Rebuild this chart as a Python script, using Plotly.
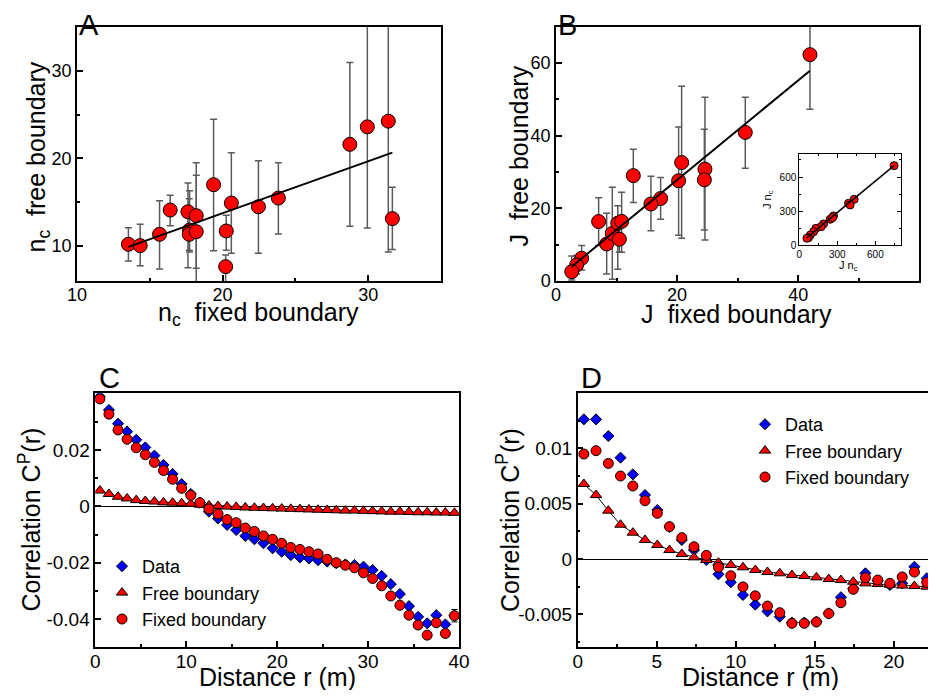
import plotly.graph_objects as go

# The page keeps the browser's 8 px body margin, so the figure is 920x682
# and placed at (8, 8) inside the 936x698 window.
PAGE_W, PAGE_H = 936, 698
OFF = 8
W, H = PAGE_W - 2 * OFF, PAGE_H - 2 * OFF
FONT = "Liberation Sans, Arial, sans-serif"
RED = "#ff0000"
BLUE = "#0000ff"
ERR = "#5a5a5a"

# ---------------- Panel A : n_c fixed vs free boundary ----------------
nc_fixed = [13.53, 14.34, 15.67, 16.40, 17.62, 18.19, 17.73, 17.71, 18.19, 19.38,
            20.60, 20.25, 20.21, 22.46, 23.83, 28.74, 29.94, 31.38, 31.66]
nc_free = [10.19, 10.04, 11.33, 14.10, 13.90, 13.46, 11.82, 11.33, 11.63, 16.99,
           14.90, 11.71, 7.64, 14.48, 15.47, 21.60, 23.60, 24.25, 13.12]
nc_free_hi = [12.09, 12.47, 15.17, 15.80, 17.20, 19.50, 16.30, 15.40, 18.06, 24.48,
              20.64, 13.50, 8.97, 19.73, 19.50, 30.94, 40.00, 40.00, 16.70]
nc_free_lo = [8.29, 7.75, 7.38, 12.30, 7.50, 5.00, 9.30, 9.50, 7.45, 9.46,
              9.17, 9.50, 5.50, 9.17, 11.37, 12.25, 12.05, 9.30, 9.60]
nc_fit_x = [13.53, 31.66]
nc_fit_y = [9.90, 20.66]

# ---------------- Panel B : J fixed vs free boundary ----------------
J_fixed = [41.94, 31.26, 24.60, 24.50, 20.75, 20.25, 17.28, 15.68, 12.77, 7.04,
           8.37, 9.30, 10.20, 10.84, 10.46, 4.24, 3.40, 2.60]
J_free = [62.30, 40.90, 30.80, 27.85, 32.60, 27.60, 22.70, 21.20, 29.00, 16.36,
          10.20, 13.10, 15.90, 16.40, 11.50, 6.25, 4.40, 2.56]
J_free_hi = [77.00, 50.55, 50.55, 41.80, 53.60, 42.40, 28.50, 28.80, 36.30, 22.90,
             18.66, 25.80, 20.70, 24.40, 15.00, 9.74, 7.00, 6.90]
J_free_lo = [47.30, 31.07, 11.30, 14.06, 11.80, 12.60, 17.00, 13.80, 21.60, 9.80,
             1.93, 0.46, 3.20, 7.90, 8.00, 3.00, 2.00, 0.30]
J_fit_x = [2.59, 41.94]
J_fit_y = [3.95, 57.90]

# inset : J n_c
Jnc_fixed = [747.5, 432.8, 388, 401, 270, 244, 262, 191, 173, 131, 113, 87, 73, 60]
Jnc_free = [700, 404, 369, 355, 258, 229, 243, 188, 164, 149, 120, 91, 67, 62]
Jnc_fit_x = [60, 747.5]
Jnc_fit_y = [68, 700]

# ---------------- Panel C : correlation C^P(r) ----------------
r_C = [0.5, 1.5, 2.5, 3.5, 4.5, 5.5, 6.5, 7.5, 8.5, 9.5,
       10.5, 11.5, 12.5, 13.5, 14.5, 15.5, 16.5, 17.5, 18.5, 19.5,
       20.5, 21.5, 22.5, 23.5, 24.5, 25.5, 26.5, 27.5, 28.5, 29.5,
       30.5, 31.5, 32.5, 33.5, 34.5, 35.5, 36.5, 37.5, 38.5, 39.5]
C_data = [0.0389, 0.0342, 0.0293, 0.0265, 0.0236, 0.0209, 0.0180, 0.0147, 0.0115, 0.0079,
          0.0044, 0.0013, -0.0019, -0.0043, -0.0066, -0.0084, -0.0105, -0.0117, -0.0131, -0.0149,
          -0.0161, -0.0173, -0.0181, -0.0185, -0.0191, -0.0196, -0.0202, -0.0206, -0.0208, -0.0214,
          -0.0226, -0.0247, -0.0276, -0.0311, -0.0354, -0.0392, -0.0415, -0.0386, -0.0419, -0.0388]
C_free = [0.0056, 0.0044, 0.0034, 0.0028, 0.0022, 0.0019, 0.0017, 0.0014, 0.0013, 0.0011,
          0.0009, 0.0006, 0.0003, 0.0001, -0.0001, -0.0002, -0.0004, -0.0005, -0.0006, -0.0007,
          -0.0008, -0.0009, -0.0010, -0.0011, -0.0012, -0.0013, -0.0014, -0.0015, -0.0015, -0.0016,
          -0.0017, -0.0018, -0.0019, -0.0019, -0.0020, -0.0021, -0.0021, -0.0022, -0.0022, -0.0023]
C_fixed = [0.0381, 0.0327, 0.0271, 0.0238, 0.0208, 0.0183, 0.0156, 0.0127, 0.0096, 0.0064,
           0.0039, 0.0013, -0.0009, -0.0027, -0.0047, -0.0058, -0.0077, -0.0089, -0.0105, -0.0117,
           -0.0131, -0.0146, -0.0153, -0.0161, -0.0169, -0.0188, -0.0200, -0.0209, -0.0218, -0.0236,
           -0.0256, -0.0282, -0.0318, -0.0351, -0.0386, -0.0421, -0.0457, -0.0413, -0.0451, -0.0388]
C_fixed_err = [0, 0, 0, 0, 0, 0, 0, 0, 0, 0,
               0, 0, 0, 0, 0, 0, 0, 0, 0, 0,
               0, 0, 0, 0, 0, 0, 0, 0, 0, 0,
               0, 0, 0, 0, 0, 0, 0, 0, 0, 0.0022]

# ---------------- Panel D : correlation C^P(r) ----------------
r_D = [0.39, 1.16, 1.94, 2.71, 3.49, 4.26, 5.04, 5.81, 6.59, 7.36,
       8.14, 8.91, 9.69, 10.46, 11.24, 12.01, 12.79, 13.56, 14.34, 15.11,
       15.89, 16.66, 17.44, 18.21, 18.99, 19.76, 20.54, 21.31, 22.09, 22.86]
D_data = [0.01262, 0.01262, 0.01111, 0.00916, 0.00765, 0.00578, 0.00443, 0.00290, 0.00172, 0.00081,
          -0.00009, -0.00138, -0.00210, -0.00325, -0.00412, -0.00473, -0.00521, -0.00575, -0.00575, -0.00566,
          -0.00491, -0.00345, -0.00265, -0.00129, -0.00196, -0.00235, -0.00220, -0.00070, -0.00175, -0.00200]
D_free = [0.00678, 0.00578, 0.00437, 0.00310, 0.00238, 0.00172, 0.00127, 0.00081, 0.00045, 0.00015,
          -0.00009, -0.00033, -0.00054, -0.00075, -0.00099, -0.00117, -0.00129, -0.00145, -0.00154, -0.00166,
          -0.00181, -0.00190, -0.00205, -0.00220, -0.00226, -0.00232, -0.00240, -0.00244, -0.00250, -0.00253]
D_fixed = [0.00949, 0.00979, 0.00864, 0.00750, 0.00660, 0.00527, 0.00413, 0.00292, 0.00193, 0.00111,
           0.00033, -0.00075, -0.00151, -0.00252, -0.00333, -0.00425, -0.00485, -0.00581, -0.00581, -0.00569,
           -0.00493, -0.00395, -0.00274, -0.00169, -0.00190, -0.00220, -0.00162, -0.00118, -0.00212, -0.00190]


def xd(px):
    """window pixel x -> paper fraction"""
    return (px - OFF) / W


def yd(py):
    """window pixel y -> paper fraction"""
    return 1 - (py - OFF) / H


def diff(a, b):
    return [u - v for u, v in zip(a, b)]


fig = go.Figure()

circle_big = dict(symbol="circle", size=14, color=RED, line=dict(color="black", width=1))

# Panel A
fig.add_trace(go.Scatter(
    x=nc_fixed, y=nc_free, mode="markers", marker=circle_big, showlegend=False,
    error_y=dict(type="data", symmetric=False, array=diff(nc_free_hi, nc_free),
                 arrayminus=diff(nc_free, nc_free_lo), color=ERR, thickness=1.5, width=3.5),
    xaxis="x", yaxis="y"))
fig.add_trace(go.Scatter(x=nc_fit_x, y=nc_fit_y, mode="lines", line=dict(color="black", width=2),
                         showlegend=False, xaxis="x", yaxis="y"))

# Panel B
fig.add_trace(go.Scatter(
    x=J_fixed, y=J_free, mode="markers", marker=circle_big, showlegend=False,
    error_y=dict(type="data", symmetric=False, array=diff(J_free_hi, J_free),
                 arrayminus=diff(J_free, J_free_lo), color=ERR, thickness=1.5, width=3.5),
    xaxis="x2", yaxis="y2"))
fig.add_trace(go.Scatter(x=J_fit_x, y=J_fit_y, mode="lines", line=dict(color="black", width=2),
                         showlegend=False, xaxis="x2", yaxis="y2"))

# Inset
fig.add_trace(go.Scatter(x=Jnc_fixed, y=Jnc_free, mode="markers",
                         marker=dict(symbol="circle", size=8, color=RED, line=dict(color="black", width=1)),
                         showlegend=False, xaxis="x3", yaxis="y3"))
fig.add_trace(go.Scatter(x=Jnc_fit_x, y=Jnc_fit_y, mode="lines", line=dict(color="black", width=1.5),
                         showlegend=False, xaxis="x3", yaxis="y3"))

diamond = dict(symbol="diamond", size=8.5, color=BLUE, line=dict(color="black", width=1))
triangle = dict(symbol="triangle-up", size=10, color=RED, line=dict(color="black", width=1))
circle_sm = dict(symbol="circle", size=10, color=RED, line=dict(color="black", width=1))

# Panel C
fig.add_trace(go.Scatter(x=r_C, y=C_free, mode="lines", line=dict(color="black", width=1),
                         showlegend=False, xaxis="x4", yaxis="y4"))
fig.add_trace(go.Scatter(x=r_C, y=C_data, mode="markers", marker=diamond, name="Data",
                         legend="legend", xaxis="x4", yaxis="y4"))
fig.add_trace(go.Scatter(x=r_C, y=C_free, mode="markers", marker=triangle, name="Free boundary",
                         legend="legend", xaxis="x4", yaxis="y4"))
fig.add_trace(go.Scatter(x=r_C, y=C_fixed, mode="markers", marker=circle_sm, name="Fixed boundary",
                         error_y=dict(type="data", array=C_fixed_err, color="black", thickness=1, width=3),
                         legend="legend", xaxis="x4", yaxis="y4"))

# Panel D
fig.add_trace(go.Scatter(x=r_D, y=D_free, mode="lines", line=dict(color="black", width=1),
                         showlegend=False, xaxis="x5", yaxis="y5"))
fig.add_trace(go.Scatter(x=r_D, y=D_data, mode="markers", marker=diamond, name="Data",
                         legend="legend2", xaxis="x5", yaxis="y5"))
fig.add_trace(go.Scatter(x=r_D, y=D_free, mode="markers", marker=triangle, name="Free boundary",
                         legend="legend2", xaxis="x5", yaxis="y5"))
fig.add_trace(go.Scatter(x=r_D, y=D_fixed, mode="markers", marker=circle_sm, name="Fixed boundary",
                         legend="legend2", xaxis="x5", yaxis="y5"))


def ax(size=18, **kw):
    base = dict(showline=True, linecolor="black", linewidth=1.5, mirror=True,
                ticks="inside", ticklen=6, tickwidth=1.5, tickcolor="black",
                showgrid=False, zeroline=False, fixedrange=True, automargin=False,
                tickfont=dict(family=FONT, size=size, color="black"))
    base.update(kw)
    return base


def minor(**kw):
    m = dict(ticks="inside", ticklen=3, tickwidth=1.5, tickcolor="black", showgrid=False)
    m.update(kw)
    return m


# right edge of panel D is the right edge of the figure
D_xmax = (PAGE_W - OFF - 577.7) / 15.8

fig.update_layout(
    width=W, height=H, autosize=False,
    margin=dict(l=0, r=0, t=0, b=0),
    paper_bgcolor="white", plot_bgcolor="white",
    font=dict(family=FONT, color="black"),
    xaxis=ax(domain=[xd(77), xd(441)], range=[10, 35], anchor="y", ticklabelstandoff=-3,
             tickmode="linear", tick0=10, dtick=10, minor=minor(dtick=5)),
    yaxis=ax(domain=[yd(281), yd(27)], range=[6, 35], anchor="x",
             tickmode="linear", tick0=10, dtick=10, minor=minor(dtick=5)),
    xaxis2=ax(domain=[xd(556), xd(919.3)], range=[0, 60], anchor="y2", ticklabelstandoff=-3,
              tickmode="linear", tick0=0, dtick=20, minor=minor(dtick=10)),
    yaxis2=ax(domain=[yd(281), yd(26.7)], range=[0, 70], anchor="x2",
              tickmode="linear", tick0=0, dtick=20, minor=minor(dtick=10)),
    xaxis3=ax(size=10, domain=[xd(799.3), xd(900.7)], range=[0, 800], anchor="y3",
              mirror="allticks", ticklen=4, linewidth=1, tickwidth=1,
              tickmode="linear", tick0=0, dtick=300, minor=minor(dtick=150, ticklen=2, tickwidth=1)),
    yaxis3=ax(size=10, domain=[yd(245.3), yd(154.3)], range=[0, 800], anchor="x3",
              mirror="allticks", ticklen=4, linewidth=1, tickwidth=1,
              tickmode="linear", tick0=0, dtick=300, minor=minor(dtick=150, ticklen=2, tickwidth=1)),
    xaxis4=ax(size=19, domain=[xd(95.3), xd(459)], range=[0, 40], anchor="y4", ticklabelstandoff=-4,
              tickmode="linear", tick0=0, dtick=10, minor=minor(dtick=5)),
    yaxis4=ax(size=19, domain=[yd(647), yd(393.3)], range=[-0.0499, 0.0401], anchor="x4",
              tickmode="array", tickvals=[-0.04, -0.02, 0, 0.02],
              ticktext=["-0.04", "-0.02", "0", "0.02"],
              zeroline=True, zerolinecolor="black", zerolinewidth=1,
              minor=minor(tickmode="array", tickvals=[-0.03, -0.01, 0.01, 0.03])),
    xaxis5=ax(size=19, domain=[xd(577.7), 1.0], range=[0, D_xmax], anchor="y5", ticklabelstandoff=-4,
              tickmode="linear", tick0=0, dtick=5, minor=minor(dtick=2.5)),
    yaxis5=ax(size=19, domain=[yd(647), yd(392.7)], range=[-0.00795, 0.01503], anchor="x5",
              mirror=False,
              tickmode="array", tickvals=[-0.005, 0, 0.005, 0.01],
              ticktext=["-0.005", "0", "0.005", "0.01"],
              zeroline=True, zerolinecolor="black", zerolinewidth=1,
              minor=minor(tickmode="array", tickvals=[-0.0075, -0.0025, 0.0025, 0.0075, 0.0125])),
    legend=dict(x=xd(102), y=yd(548), xanchor="left", yanchor="top",
                font=dict(family=FONT, size=18, color="black"),
                bgcolor="rgba(0,0,0,0)", borderwidth=0, tracegroupgap=0),
    legend2=dict(x=xd(745), y=yd(406), xanchor="left", yanchor="top",
                 font=dict(family=FONT, size=18, color="black"),
                 bgcolor="rgba(0,0,0,0)", borderwidth=0, tracegroupgap=0),
)

ann = []


def label(text, px, py, size, angle=0, xanchor="center", yanchor="middle", yabs=None, pad=1):
    ann.append(dict(text=text, x=xd(px), y=(yd(py) if yabs is None else yabs),
                    xref="paper", yref="paper", borderpad=pad,
                    xanchor=xanchor, yanchor=yanchor, showarrow=False, textangle=angle,
                    font=dict(family=FONT, size=size, color="black")))


# panel letters (A and B sit against the top edge of the figure)
label("A", 78, 0, 29, xanchor="left", yanchor="top", yabs=1.0, pad=0)
label("B", 557, 0, 29, xanchor="left", yanchor="top", yabs=1.0, pad=0)
label("C", 98, 377.8, 29, xanchor="left", pad=0)
label("D", 579.5, 378.3, 29, xanchor="left", pad=0)

# axis titles
sp = "\u00a0\u00a0"
label("n<sub>c</sub>" + sp + "fixed boundary", 259, 314, 25)
label("n<sub>c</sub>" + sp + "free boundary", 37, 157.5, 25, angle=-90)
label("J" + sp + "fixed boundary", 736.5, 314, 25)
label("J" + sp + "free boundary", 518, 156.5, 25, angle=-90)
label("J n<sub>c</sub>", 848, 266, 11)
label("J n<sub>c</sub>", 768, 200, 11, angle=-90)
label("Distance r (m)", 277.5, 676.5, 25, pad=0)
label("Distance r (m)", 760, 676.5, 25, pad=0)
label("Correlation C<sup>P</sup>(r)", 29.6, 520, 25, angle=-90)
label("Correlation C<sup>P</sup>(r)", 508, 520, 25, angle=-90)

fig.update_layout(annotations=ann)

fig.write_html("out.html", config={"displayModeBar": False})
